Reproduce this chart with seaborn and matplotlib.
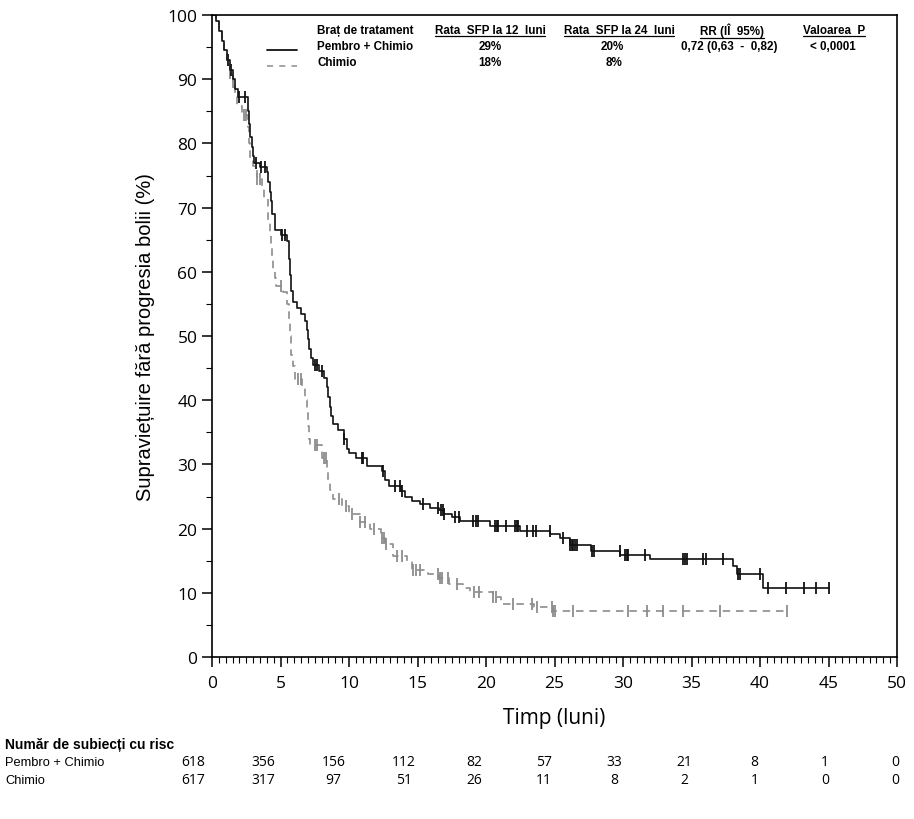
import numpy as np
import pandas as pd
import matplotlib
matplotlib.use("Agg")
import matplotlib.pyplot as plt
import seaborn as sns
from matplotlib.lines import Line2D
from matplotlib.ticker import MultipleLocator

# ---------------- data ----------------
pembro_time = [0, 0.3, 0.5, 0.7, 0.9, 1.1, 1.3, 1.5, 1.7, 1.9, 2.6, 2.7, 2.8, 2.9, 3.0, 3.1,
               3.5, 4.0, 4.1, 4.2, 4.3, 4.4, 4.6, 5.0, 5.5, 5.6, 5.7, 5.8, 5.9, 6.2, 6.5, 6.8,
               6.9, 7.0, 7.1, 7.2, 7.4, 7.8, 8.2, 8.4, 8.5, 8.6, 8.7, 8.8, 9.2, 9.6, 9.85,
               10.0, 10.5, 11.3, 12.4, 12.6, 12.9, 13.8, 14.1, 14.6, 15.2, 15.9, 16.6, 16.9,
               17.5, 18.1, 20.3, 22.5, 24.7, 25.4, 26.1, 27.7, 29.8, 32.0, 38.0, 38.3, 40.2, 45.0]
pembro_surv = [100, 99, 97.5, 96, 94.5, 93, 91.5, 90, 88.5, 87.2, 85, 83, 81, 79.5, 78, 77,
               76.3, 75.5, 74, 72.5, 71, 69, 66.5, 65.8, 64.8, 62, 59.5, 57, 55.3, 54.3, 53.5, 52.3,
               51, 49.5, 48, 46.5, 45.5, 44.5, 43.5, 42, 40.5, 39, 37.5, 36.3, 35.3, 34, 32.4,
               31.8, 31, 29.7, 29, 27.5, 26.6, 25.8, 24.9, 24.3, 23.8, 23.2, 22.9, 22.3,
               21.8, 21.2, 20.4, 19.6, 19.2, 18.5, 17.4, 16.5, 15.9, 15.3, 14.2, 12.9, 10.75, 10.75]

chemo_time = [0, 0.3, 0.5, 0.7, 0.9, 1.1, 1.3, 1.5, 1.7, 1.8, 2.2, 2.6, 2.7, 2.8, 3.0, 3.3,
              3.65, 3.8, 4.1, 4.2, 4.3, 4.4, 4.45, 4.6, 4.7, 5.2, 5.5, 5.6, 5.7, 5.8, 5.9, 6.05,
              6.6, 6.8, 6.9, 7.0, 7.1, 7.15, 8.0, 8.4, 8.5, 8.6, 8.8, 9.5, 10.0, 10.8, 11.5,
              12.3, 12.6, 13.2, 14.2, 14.6, 15.8, 16.6, 17.3, 18.3, 18.8, 20.5, 21.1, 23.5,
              24.9, 42.0]
chemo_surv = [100, 99, 97.5, 96, 94, 92.5, 91, 89.5, 87.5, 85.8, 84.5, 82.5, 80, 77.6, 76.5, 74.5,
              73, 71.5, 68, 66, 64, 62.5, 60.5, 59, 57.8, 56.9, 55, 52.5, 50, 47, 45.3, 43.3,
              42, 40, 38, 36, 34, 33, 31, 29, 27.5, 26, 24.6, 23.5, 22.3, 21, 20,
              18.5, 17.6, 15.7, 15.0, 13.6, 12.9, 12.3, 11.4, 10.8, 10.1, 9.3, 8.3, 7.8,
              7.2, 7.2]

pembro_censor = [1.2, 1.4, 2.0, 2.4, 3.2, 3.6, 3.9, 5.1, 5.3, 7.5, 7.7, 8.0, 9.6, 10.95, 11.0,
                 12.5, 13.36, 13.72, 13.85, 15.38, 16.52, 16.69, 16.84, 16.96, 17.74, 18.03,
                 19.07, 19.25, 19.44, 20.66, 20.78, 20.9, 21.46, 22.12, 22.24, 22.36, 22.97,
                 23.45, 23.65, 24.67, 25.64, 26.13, 26.25, 26.37, 26.5, 26.62, 27.72, 27.88,
                 29.78, 30.15, 30.27, 30.39, 31.61, 34.4, 34.53, 34.65, 35.86, 36.06, 37.28,
                 38.4, 38.54, 40.0, 40.6, 41.9, 43.2, 44.1, 45.0]
chemo_censor = [1.3, 1.5, 2.3, 2.5, 3.3, 3.5, 5.0, 6.3, 6.5, 7.5, 7.7, 8.2, 8.3, 9.3, 9.8,
                10.2, 10.8, 11.2, 11.8, 12.39, 12.55, 12.7, 13.48, 13.85, 14.69, 14.89, 15.18,
                16.52, 16.64, 16.77, 17.25, 17.86, 19.12, 19.51, 20.53, 20.73, 21.95, 23.33,
                23.7, 24.79, 24.91, 25.04, 26.37, 30.39, 31.73, 32.9, 34.4, 37.08, 42.0]

risk_times = [0, 5, 10, 15, 20, 25, 30, 35, 40, 45, 50]
risk_pembro = [618, 356, 156, 112, 82, 57, 33, 21, 8, 1, 0]
risk_chemo = [617, 317, 97, 51, 26, 11, 8, 2, 1, 0, 0]

arm_labels = ["Pembro + Chimio", "Chimio"]
table_headers = ["Braț de tratament", "Rata  SFP la 12  luni", "Rata  SFP la 24  luni",
                 "RR (IÎ  95%)", "Valoarea  P"]
row_pembro = ["29%", "20%", "0,72 (0,63  -  0,82)", "< 0,0001"]
row_chemo = ["18%", "8%"]

BLACK = "#111111"
GREY = "#8c8c8c"


def surv_at(times, survs, t):
    times = np.asarray(times)
    survs = np.asarray(survs)
    idx = np.searchsorted(times, t, side="right") - 1
    return survs[np.clip(idx, 0, len(survs) - 1)]


# ---------------- figure ----------------
sns.set_style("white")
plt.rcParams["font.family"] = ["Open Sans", "DejaVu Sans"]

W, H = 914, 820
fig = plt.figure(figsize=(W / 100, H / 100), dpi=100)
L, R, T, B = 212, 897, 16, 658
ax = fig.add_axes([L / W, 1 - B / H, (R - L) / W, (B - T) / H])

df_p = pd.DataFrame({"t": pembro_time, "s": pembro_surv})
df_c = pd.DataFrame({"t": chemo_time, "s": chemo_surv})
sns.lineplot(data=df_c, x="t", y="s", ax=ax, estimator=None, sort=False,
             drawstyle="steps-post", color=GREY, lw=1.2, linestyle=(0, (4.5, 3.5)))
sns.lineplot(data=df_p, x="t", y="s", ax=ax, estimator=None, sort=False,
             drawstyle="steps-post", color=BLACK, lw=1.2)

cp = pd.DataFrame({"t": pembro_censor, "s": surv_at(pembro_time, pembro_surv, pembro_censor)})
cc = pd.DataFrame({"t": chemo_censor, "s": surv_at(chemo_time, chemo_surv, chemo_censor)})
sns.scatterplot(data=cc, x="t", y="s", ax=ax, marker="|", s=75, color=GREY, linewidth=1.3)
sns.scatterplot(data=cp, x="t", y="s", ax=ax, marker="|", s=75, color=BLACK, linewidth=1.3)

ax.set_xlim(0, 50)
ax.set_ylim(0, 100)
ax.xaxis.set_major_locator(MultipleLocator(5))
ax.xaxis.set_minor_locator(MultipleLocator(0.5))
ax.yaxis.set_major_locator(MultipleLocator(10))
ax.yaxis.set_minor_locator(MultipleLocator(5))
ax.tick_params(which="major", direction="out", length=7, width=1.1, color="black",
               labelsize=12.5, labelcolor="black", left=True, bottom=True)
ax.tick_params(which="minor", direction="out", length=4, width=0.8, color="black",
               left=True, bottom=True)
ax.tick_params(axis="x", pad=6)
for sp in ax.spines.values():
    sp.set_visible(True)
    sp.set_color("black")
    sp.set_linewidth(1.2)

ax.set_xlabel("Timp (luni)", fontsize=15, color="black")
ax.set_ylabel("Supraviețuire fără progresia bolii (%)", fontsize=14.5, color="black",
              family=["Liberation Sans", "DejaVu Sans"])
ax.xaxis.set_label_coords(0.5, -0.078)
ax.yaxis.set_label_coords(-0.083, 0.5)


def fx(px):
    return px / W


def fy(py):
    return 1 - py / H


# ---------------- top summary table ----------------
narrow = ["Liberation Sans", "DejaVu Sans"]
tkw = dict(fontsize=8.4, fontweight="bold", family=narrow, color="black", va="center")
fig.text(fx(317), fy(31), table_headers[0], ha="left", **tkw)
hdr_x = [490, 619, 732, 834]
hdr_texts = []
for x, h in zip(hdr_x, table_headers[1:]):
    hdr_texts.append(fig.text(fx(x), fy(31), h, ha="center", **tkw))
fig.text(fx(317), fy(47), arm_labels[0], ha="left", **tkw)
fig.text(fx(317), fy(63), arm_labels[1], ha="left", **tkw)
for x, v in zip([490, 612, 729, 833], row_pembro):
    fig.text(fx(x), fy(47), v, ha="center", **tkw)
for x, v in zip([490, 614], row_chemo):
    fig.text(fx(x), fy(63), v, ha="center", **tkw)

fig.add_artist(Line2D([fx(267), fx(297)], [fy(51), fy(51)], color=BLACK, lw=1.3))
fig.add_artist(Line2D([fx(267), fx(297)], [fy(67), fy(67)], color=GREY, lw=1.1,
                      linestyle=(0, (4, 4))))

fig.canvas.draw()
rend = fig.canvas.get_renderer()
inv = fig.transFigure.inverted()
for t in hdr_texts:
    bb = t.get_window_extent(renderer=rend)
    (x0, y0), (x1, y1) = inv.transform([(bb.x0, bb.y0), (bb.x1, bb.y1)])
    fig.add_artist(Line2D([x0, x1], [y0 - 0.0005, y0 - 0.0005], color="black", lw=0.9))

# ---------------- number at risk ----------------
rkw = dict(fontsize=10, color="black", va="center")
fig.text(fx(5), fy(745), "Număr de subiecți cu risc", ha="left", fontweight="bold",
         family=["Liberation Sans", "DejaVu Sans"], **rkw)
fig.text(fx(5), fy(763), arm_labels[0], ha="left", family=["Liberation Sans", "DejaVu Sans"],
         fontsize=9.3, color="black", va="center")
fig.text(fx(5), fy(781), arm_labels[1], ha="left", family=["Liberation Sans", "DejaVu Sans"],
         fontsize=9.3, color="black", va="center")
for i, (a, b) in enumerate(zip(risk_pembro, risk_chemo)):
    x = 193 + i * 70.2
    fig.text(fx(x), fy(763), str(a), ha="center", **rkw)
    fig.text(fx(x), fy(781), str(b), ha="center", **rkw)

fig.savefig("out.png", dpi=100)
